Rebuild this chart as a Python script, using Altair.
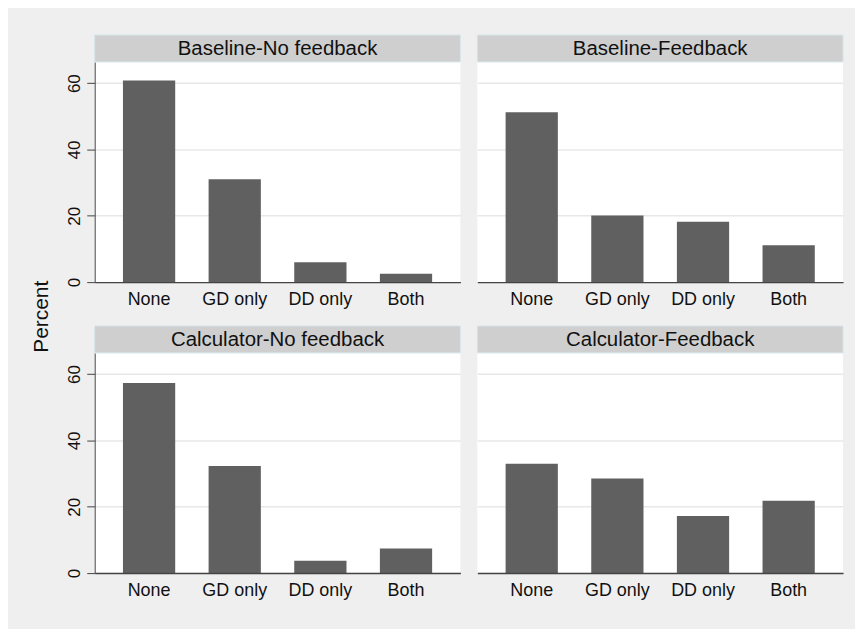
import altair as alt
import pandas as pd

categories = ["None", "GD only", "DD only", "Both"]
panel_titles = ["Baseline-No feedback", "Baseline-Feedback",
                "Calculator-No feedback", "Calculator-Feedback"]
baseline_no_feedback = [60.8, 31.0, 6.0, 2.5]
baseline_feedback = [51.2, 20.1, 18.2, 11.1]
calculator_no_feedback = [57.3, 32.3, 3.7, 7.4]
calculator_feedback = [33.0, 28.5, 17.2, 21.8]
y_ticks = [0, 20, 40, 60]

FONT = "Liberation Sans"
W = 367
STRIP = 27
PLOT_H = 221
H = PLOT_H + STRIP
YMAX = 66.4


def panel(title, values, show_y):
    df = pd.DataFrame({"category": categories, "percent": values})
    strip_df = pd.DataFrame({"panel": [title]})
    strip = alt.Chart(strip_df).mark_rect(
        fill="#cfcfcf", stroke="#d6e6ea", strokeWidth=1
    ).encode(x=alt.value(0), x2=alt.value(W), y=alt.value(0), y2=alt.value(STRIP))
    strip_text = alt.Chart(strip_df).mark_text(
        font=FONT, fontSize=20.5, color="#111111", baseline="middle"
    ).encode(x=alt.value(W / 2), y=alt.value(STRIP / 2 + 1), text="panel:N")
    if show_y:
        yaxis = alt.Axis(values=y_ticks, title=None, grid=True, gridColor="#e8e8e8",
                         gridWidth=1.5, labelAngle=270, labelAlign="center",
                         labelBaseline="alphabetic", labelPadding=7, tickSize=8,
                         tickColor="#444444", domainColor="#444444", labelFont=FONT,
                         labelFontSize=17, labelColor="#111111")
    else:
        yaxis = alt.Axis(values=y_ticks, title=None, grid=True, gridColor="#e8e8e8",
                         gridWidth=1.5, labels=False, ticks=False, domain=False)
    bars = alt.Chart(df).mark_bar(color="#606060").encode(
        x=alt.X("category:N", sort=categories,
                scale=alt.Scale(paddingInner=0.39, paddingOuter=0.33),
                axis=alt.Axis(title=None, labelAngle=0, ticks=False, labelPadding=8,
                              labelFont=FONT, labelFontSize=18, labelColor="#111111",
                              domainColor="#444444", domainWidth=1.5, zindex=1)),
        y=alt.Y("percent:Q",
                scale=alt.Scale(domain=[0, YMAX], range=[H, STRIP], nice=False, zero=True),
                axis=yaxis),
    )
    return alt.layer(bars, strip, strip_text).properties(width=W, height=H)


p1 = panel(panel_titles[0], baseline_no_feedback, True)
p2 = panel(panel_titles[1], baseline_feedback, False)
p3 = panel(panel_titles[2], calculator_no_feedback, True)
p4 = panel(panel_titles[3], calculator_feedback, False)

row1 = alt.hconcat(p1, p2, spacing=15)
row2 = alt.hconcat(p3, p4, spacing=15)

chart = alt.vconcat(row1, row2, spacing=17).properties(
    title=alt.TitleParams("Percent", orient="left", anchor="middle", font=FONT,
                          fontSize=21, fontWeight="normal", color="#111111", offset=14),
    padding={"left": 22, "top": 25, "right": 11, "bottom": 29},
    background="#efefef",
).configure_view(stroke=None, fill="white")

chart.save("out.html", embed_options={"renderer": "svg", "actions": False})
